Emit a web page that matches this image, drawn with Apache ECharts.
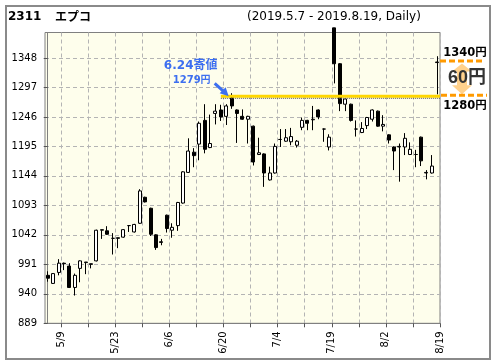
<!DOCTYPE html>
<html><head><meta charset="utf-8">
<script src="https://cdn.jsdelivr.net/npm/echarts@6/dist/echarts.min.js"></script>
<style>html,body{margin:0;padding:0;background:#fff}#c{width:496px;height:364px}</style>
</head><body><div id="c"></div><script>
// ---- data ----
const dates = ['5/7','5/8','5/9','5/10','5/13','5/14','5/15','5/16','5/17','5/20','5/21','5/22','5/23','5/24','5/27','5/28','5/29','5/30','5/31',
'6/3','6/4','6/5','6/6','6/7','6/10','6/11','6/12','6/13','6/14','6/17','6/18','6/19','6/20','6/21','6/24','6/25','6/26','6/27','6/28',
'7/1','7/2','7/3','7/4','7/5','7/8','7/9','7/10','7/11','7/12','7/16','7/17','7/18','7/19','7/22','7/23','7/24','7/25','7/26','7/29','7/30','7/31',
'8/1','8/2','8/5','8/6','8/7','8/8','8/9','8/13','8/14','8/15','8/16','8/19'];
const opens  = [972,958,977,993,988,951,984,994,992,997,1050,1049,1036,1037,1038,1058,1047,1062,1107,1088,1042,1030,1076,1050,1058,1097,1150,1185,1199,1240,1193,1252,1258,1247,1279,1258,1247,1242,1230,1181,1182,1137,1149,1207,1204,1203,1197,1228,1240,1241,1258,1225,1194,1400,1338,1268,1268,1225,1219,1231,1242,1256,1230,1215,1194,1194,1194,1181,1181,1211,1149,1149,1340];
const closes = [967,975,993,992,951,972,997,995,991,1050,1051,1043,1036,1036,1051,1058,1060,1118,1099,1043,1020,1029,1053,1055,1098,1151,1187,1179,1235,1190,1200,1256,1246,1265,1265,1252,1242,1247,1168,1184,1149,1149,1195,1207,1210,1212,1204,1240,1235,1242,1246,1225,1211,1338,1269,1277,1240,1225,1226,1245,1258,1230,1233,1206,1187,1195,1209,1190,1181,1170,1150,1161,1341];
const lows   = [961,957,972,981,950,937,960,974,984,996,1035,1042,1008,1019,1037,1047,1046,1061,1098,1040,1016,1024,1046,1037,1049,1096,1149,1159,1171,1183,1192,1233,1239,1232,1260,1201,1241,1200,1162,1180,1125,1136,1148,1194,1203,1197,1193,1223,1223,1223,1242,1203,1188,1304,1256,1256,1238,1212,1218,1225,1238,1229,1221,1200,1154,1134,1180,1180,1159,1161,1138,1148,1285];
const highs  = [979,976,1000,994,993,975,998,995,992,1051,1051,1057,1045,1037,1052,1059,1061,1121,1108,1089,1043,1035,1077,1062,1099,1152,1209,1192,1238,1268,1250,1268,1267,1268,1287,1259,1259,1248,1231,1210,1183,1160,1200,1225,1225,1227,1206,1245,1241,1265,1259,1226,1216,1400,1339,1278,1269,1240,1237,1246,1259,1257,1249,1216,1195,1200,1218,1202,1189,1212,1154,1180,1351];
const yTicks = [889,940,991,1042,1093,1144,1195,1246,1297,1348];
const xTickPos = [2.5,7.5,12.5,17.5,22.5,27.5,32.5,37.5,42.5,47.5,52.5,57.5,62.5,67.5,72.5];
const xLabelPos = [2.5,12.5,22.5,32.5,42.5,52.5,62.5,72.5];
const refIdx = 34, refOpen = 1279;          // 6.24 寄値
const lastOpen = 1340, refLevel = 1280;     // right-side annotation
const gapText = '60円';

const candleData = opens.map((o,i)=>[o, closes[i], lows[i], highs[i]]);
const FONT = '"DejaVu Sans", "Noto Sans CJK JP", sans-serif';

const chart = echarts.init(document.getElementById('c'), null, {renderer:'canvas'});
const option = {
  animation: false,
  backgroundColor: '#fff',
  grid: {left: 45, right: 56, top: 32.5, bottom: 40.7, show: true,
         backgroundColor: '#fefeec', borderColor: '#808080', borderWidth: 1},
  xAxis: [
    {type: 'category', data: dates, boundaryGap: true, show: false},
    {type: 'value', min: -0.5, max: 72.5, position: 'bottom',
     axisLine: {show: true, lineStyle: {color: '#808080'}},
     axisTick: {show: true, length: 4, customValues: xTickPos, lineStyle: {color: '#555'}},
     axisLabel: {customValues: xLabelPos, rotate: 90, margin: 8, color: '#000',
                 fontSize: 10, fontFamily: FONT,
                 formatter: v => dates[Math.round(v - 0.5)]},
     splitLine: {show: true, lineStyle: {color: '#b4b4b4', type: [4,3], width: 1}}
    }
  ],
  yAxis: {type: 'value', min: 889, max: 1392,
    axisLine: {show: true, lineStyle: {color: '#808080'}},
    axisTick: {show: true, length: 4, customValues: yTicks, lineStyle: {color: '#555'}},
    axisLabel: {customValues: yTicks, margin: 8, color: '#000', fontSize: 10, fontFamily: FONT,
                formatter: v => String(v)},
    splitLine: {show: true, lineStyle: {color: '#b4b4b4', type: [4,3], width: 1}}
  },
  series: [{
    type: 'candlestick', xAxisIndex: 0, yAxisIndex: 0, data: candleData,
    barWidth: 3.5, clip: true,
    itemStyle: {color: '#fff', color0: '#000', borderColor: '#000', borderColor0: '#000', borderWidth: 1}
  }]
};
chart.setOption(option);

const px = (i, v) => chart.convertToPixel({seriesIndex: 0}, [i, v]);
const a = px(refIdx, refOpen);
const xStart = px(32, refOpen)[0];
const xRight = chart.convertToPixel({xAxisIndex: 1}, 72.5);
const yTop = chart.convertToPixel({yAxisIndex: 0}, lastOpen);
const yBot = chart.convertToPixel({yAxisIndex: 0}, refLevel);

const blue = '#3d6ff0';
const orange = '#ff9a00';
const tx = a[0] - 3, ty = a[1] - 1.5;
const g = [
  {type: 'rect', shape: {x: 6, y: 6, width: 484, height: 353}, style: {fill: 'none', stroke: '#8a8a8a', lineWidth: 2}, z: 100},
  {type: 'text', style: {text: '2311', x: 8, y: 16.5, font: 'bold 12px ' + FONT, fill: '#000', verticalAlign: 'middle'}},
  {type: 'text', style: {text: 'エプコ', x: 55, y: 16.5, font: 'bold 12px "Noto Sans CJK JP", sans-serif', fill: '#000', verticalAlign: 'middle'}},
  {type: 'text', style: {text: '(2019.5.7 - 2019.8.19, Daily)', x: 247, y: 17, font: '12px ' + FONT, fill: '#000', verticalAlign: 'middle'}},
  // reference open line
  {type: 'line', shape: {x1: xStart, y1: a[1] - 1.5, x2: xRight, y2: a[1] - 1.5}, style: {stroke: '#ffd700', lineWidth: 3}, z: 50},
  {type: 'line', shape: {x1: xStart, y1: a[1] + 0.5, x2: xRight, y2: a[1] + 0.5}, style: {stroke: '#555', lineWidth: 1, lineDash: [1,1]}, z: 51},
  // blue arrow and label
  {type: 'line', shape: {x1: tx - 14, y1: ty - 13, x2: tx - 4, y2: ty - 4}, style: {stroke: blue, lineWidth: 3}, z: 52},
  {type: 'polygon', shape: {points: [[tx, ty], [tx - 9, ty - 3], [tx - 3, ty - 9]]}, style: {fill: blue}, z: 52},
  {type: 'text', style: {text: '6.24寄値', x: a[0] - 41, y: a[1] - 32, font: 'bold 12px ' + FONT, fill: blue, align: 'center', verticalAlign: 'middle'}, z: 52},
  {type: 'text', style: {text: refOpen + '円', x: a[0] - 40, y: a[1] - 17, font: 'bold 10px ' + FONT, fill: blue, align: 'center', verticalAlign: 'middle'}, z: 52},
  // right-side gap annotation
  {type: 'polygon', shape: {points: [[462, yTop + 1], [472, yTop + 9], [467, yTop + 9], [467, yBot - 12], [472, yBot - 12], [462, yBot - 3], [452, yBot - 12], [457, yBot - 12], [457, yTop + 9], [452, yTop + 9]]},
   style: {fill: 'rgba(255,154,0,0.45)'}, z: 40},
  {type: 'line', shape: {x1: xRight, y1: yTop - 1.5, x2: 485, y2: yTop - 1.5}, style: {stroke: orange, lineWidth: 3, lineDash: [6,3]}, z: 41},
  {type: 'line', shape: {x1: xRight + 1, y1: yBot - 2, x2: 487, y2: yBot - 2}, style: {stroke: orange, lineWidth: 3, lineDash: [6,3]}, z: 41},
  {type: 'text', style: {text: lastOpen + '円', x: 465, y: yTop - 10, font: 'bold 11.5px ' + FONT, fill: '#000', align: 'center', verticalAlign: 'middle'}, z: 42},
  {type: 'text', style: {text: refLevel + '円', x: 465, y: yBot + 9, font: 'bold 11.5px ' + FONT, fill: '#000', align: 'center', verticalAlign: 'middle'}, z: 42},
  {type: 'text', style: {text: gapText, x: 467, y: (yTop + yBot) / 2 - 2, font: 'bold 18px "Liberation Sans", "Noto Sans CJK JP", sans-serif', fill: '#333', align: 'center', verticalAlign: 'middle'}, z: 42}
];
chart.setOption({graphic: g});
</script></body></html>
